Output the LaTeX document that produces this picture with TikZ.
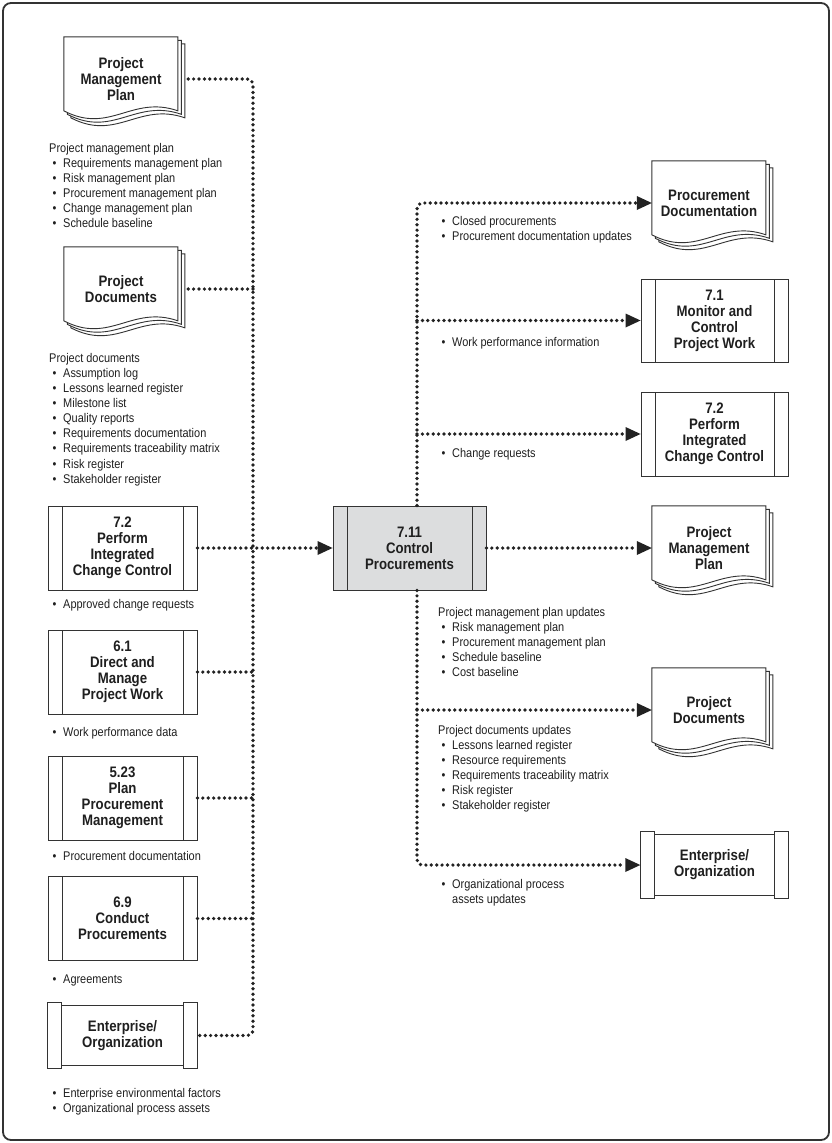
\documentclass[tikz,border=0pt]{standalone}
\usepackage{fontspec}
\setmainfont{Liberation Sans}[FakeStretch=0.87]
\usetikzlibrary{arrows.meta,backgrounds}

\definecolor{inkgray}{HTML}{333333}
\definecolor{dotgray}{HTML}{222222}
\definecolor{boxgray}{HTML}{DCDDDE}

\newcommand{\titlefont}{\fontsize{15.2}{16}\selectfont\bfseries}
\newcommand{\listfont}{\fontsize{12.6}{15.1}\selectfont}
\newcommand{\bitem}{\makebox[14pt][l]{\hspace{3.5pt}\textbullet}}

\tikzset{boxline/.style={draw=inkgray, line width=0.9pt}}

% stacked pages behind a document node
\newcommand{\docpages}[1]{%
  \foreach \pg in {7,3.5,0}{
    \draw[boxline, fill=white] ([shift={(\pg,\pg)}]#1.north west) -- ++(114,0) -- ++(0,74)
      .. controls +(-46,-16) and +(46,24) .. ++(-114,0) -- cycle;
  }}

% side bars of an enterprise box
\newcommand{\entframe}[1]{%
  \draw[boxline] (#1.north west) rectangle ([xshift=14pt]#1.south west);
  \draw[boxline] (#1.north east) rectangle ([xshift=-14pt]#1.south east);
  \draw[boxline] ([xshift=14pt,yshift=-3pt]#1.north west) -- ([xshift=-14pt,yshift=-3pt]#1.north east);
  \draw[boxline] ([xshift=14pt,yshift=3pt]#1.south west) -- ([xshift=-14pt,yshift=3pt]#1.south east);
}

\begin{document}
\begin{tikzpicture}[x=1pt, y=-1pt, text=black!88,
    procbox/.style={rectangle, boxline, fill=white, minimum width=149pt, minimum height=84pt,
      align=center, font=\titlefont,
      path picture={
        \draw[boxline] ([xshift=14pt]path picture bounding box.north west) -- ([xshift=14pt]path picture bounding box.south west);
        \draw[boxline] ([xshift=-14pt]path picture bounding box.north east) -- ([xshift=-14pt]path picture bounding box.south east);}},
    docbox/.style={rectangle, minimum width=114pt, minimum height=84pt, inner sep=2pt, align=center, font=\titlefont},
    entbox/.style={rectangle, minimum width=149pt, minimum height=65pt, align=center, font=\titlefont},
    listtxt/.style={anchor=north west, inner sep=0pt, align=left, font=\listfont},
    flow/.style={draw=dotgray, line width=3.7pt, line cap=round, dash pattern=on 0pt off 5.4pt},
    flowarrow/.style={flow, -{Triangle[length=15pt, width=14pt, line width=0pt]}}]

    \useasboundingbox (0,0) rectangle (832,1143);
    \draw[draw=inkgray, line width=1.8pt, rounded corners=8pt] (3,3) rectangle (829,1140);

    % inputs
    \node[docbox] (pmpIn) at (121,79) {Project\\Management\\Plan};
    \node[docbox] (pdIn) at (121,289) {Project\\Documents};
    \node[procbox] (piccIn) at (122.5,548) {7.2\\Perform\\Integrated\\Change Control};
    \node[procbox] (dmpwIn) at (122.5,672) {6.1\\Direct and\\Manage\\Project Work};
    \node[procbox] (ppmIn) at (122.5,798) {5.23\\Plan\\Procurement\\Management};
    \node[procbox] (cpIn) at (122.5,918.5) {6.9\\Conduct\\Procurements};
    \node[entbox] (eefIn) at (122.5,1035.5) {Enterprise/\\Organization};
    \entframe{eefIn}

    \node[listtxt] (pmpTxt) at (49,143) {Project management plan\\ \bitem Requirements management plan\\
      \bitem Risk management plan\\ \bitem Procurement management plan\\ \bitem Change management plan\\
      \bitem Schedule baseline};
    \node[listtxt] (pdTxt) at (49,353) {Project documents\\ \bitem Assumption log\\ \bitem Lessons learned register\\
      \bitem Milestone list\\ \bitem Quality reports\\ \bitem Requirements documentation\\
      \bitem Requirements traceability matrix\\ \bitem Risk register\\ \bitem Stakeholder register};
    \node[listtxt] (acrTxt) at (49,599) {\bitem Approved change requests};
    \node[listtxt] (wpdTxt) at (49,727) {\bitem Work performance data};
    \node[listtxt] (pdocTxt) at (49,851) {\bitem Procurement documentation};
    \node[listtxt] (agrTxt) at (49,975) {\bitem Agreements};
    \node[listtxt] (eefTxt) at (49,1088) {\bitem Enterprise environmental factors\\ \bitem Organizational process assets};

    % process
    \node[procbox, fill=boxgray, minimum width=153pt] (ctrl) at (409.5,548) {7.11\\Control\\Procurements};

    % outputs
    \node[docbox] (procDoc) at (709,203) {Procurement\\Documentation};
    \node[procbox, minimum width=147pt, minimum height=83pt] (mcpwOut) at (714.5,320.5) {7.1\\Monitor and\\Control\\Project Work};
    \node[procbox, minimum width=147pt] (piccOut) at (714.5,434) {7.2\\Perform\\Integrated\\Change Control};
    \node[docbox] (pmpOut) at (709,548) {Project\\Management\\Plan};
    \node[docbox] (pdOut) at (709,710) {Project\\Documents};
    \node[entbox, minimum width=148pt, minimum height=66pt] (eefOut) at (714.5,865) {Enterprise/\\Organization};
    \entframe{eefOut}

    \node[listtxt] (cpTxt) at (438,216) {\bitem Closed procurements\\ \bitem Procurement documentation updates};
    \node[listtxt] (wpiTxt) at (438,337) {\bitem Work performance information};
    \node[listtxt] (crTxt) at (438,448) {\bitem Change requests};
    \node[listtxt] (pmpuTxt) at (438,607) {Project management plan updates\\ \bitem Risk management plan\\
      \bitem Procurement management plan\\ \bitem Schedule baseline\\ \bitem Cost baseline};
    \node[listtxt] (pduTxt) at (438,725) {Project documents updates\\ \bitem Lessons learned register\\
      \bitem Resource requirements\\ \bitem Requirements traceability matrix\\ \bitem Risk register\\
      \bitem Stakeholder register};
    \node[listtxt] (opaTxt) at (438,879) {\bitem Organizational process\\ \hspace*{14pt}assets updates};

    \begin{scope}[on background layer]
      \docpages{pmpIn}
      \docpages{pdIn}
      \docpages{procDoc}
      \docpages{pmpOut}
      \docpages{pdOut}
    \end{scope}

    % connectors
    \coordinate (busIn) at (253,0);
    \coordinate (busOut) at (417,0);
    \draw[flow, rounded corners=6pt] ([xshift=10pt]pmpIn.east) -- (pmpIn.east -| busIn)
      -- (eefIn.east -| busIn) -- (eefIn.east);
    \draw[flow] ([xshift=10pt]pdIn.east) -- (pdIn.east -| busIn);
    \draw[flow] (dmpwIn.east) -- (dmpwIn.east -| busIn);
    \draw[flow] (ppmIn.east) -- (ppmIn.east -| busIn);
    \draw[flow] (cpIn.east) -- (cpIn.east -| busIn);
    \draw[flowarrow] (piccIn.east) -- (ctrl.west);

    \draw[flowarrow, rounded corners=6pt] (ctrl.north -| busOut) -- (procDoc.west -| busOut) -- (procDoc.west);
    \draw[flowarrow] (mcpwOut.west -| busOut) -- (mcpwOut.west);
    \draw[flowarrow] (piccOut.west -| busOut) -- (piccOut.west);
    \draw[flowarrow] (ctrl.east) -- (pmpOut.west);
    \draw[flowarrow] (pdOut.west -| busOut) -- (pdOut.west);
    \draw[flowarrow, rounded corners=6pt] (ctrl.south -| busOut) -- (eefOut.west -| busOut) -- (eefOut.west);
\end{tikzpicture}
\end{document}
